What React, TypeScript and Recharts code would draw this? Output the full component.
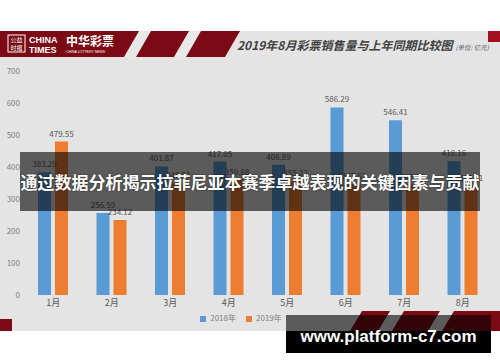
import React from 'react';
import { BarChart, Bar, XAxis, YAxis, Legend, LabelList } from 'recharts';

// monthly lottery sales, 100 million yuan
const months = ['1月', '2月', '3月', '4月', '5月', '6月', '7月', '8月'];
const sales2018 = [383.29, 256.59, 401.87, 417.05, 406.89, 586.29, 546.41, 418.16];
const sales2019 = [479.55, 234.12, 349.51, 359.88, 355.22, 347.62, 345.11, 340.61];
const yTicks = [0, 100, 200, 300, 400, 500, 600, 700];

const title = '2019年8月彩票销售量与上年同期比较图';
const unit = '(单位: 亿元)';
const caption = '通过数据分析揭示拉菲尼亚本赛季卓越表现的关键因素与贡献';
const siteUrl = 'www.platform-c7.com';

const BLUE = '#5b9bd5';
const ORANGE = '#ed7d31';
const RED = '#7b0a14';
const CJK = '"Noto Sans CJK SC", "Noto Sans", sans-serif';

const chartData = months.map((m, i) => ({
  month: m,
  y2018: sales2018[i],
  y2019: sales2019[i],
}));

function Header() {
  // red logo band with diagonal white stripes
  return (
    <svg width={500} height={26} style={{ position: 'absolute', left: 0, top: 31 }}>
      <polygon points="0,0 240,0 225,26 0,26" fill={RED} />
      <polygon points="139,0 151,0 136,26 124,26" fill="#e8e8e8" />
      <polygon points="189,0 201,0 186,26 174,26" fill="#e8e8e8" />
      <rect x={8} y={4} width={17} height={17} fill="none" stroke="#fff" strokeWidth={1} />
      <text x={16.5} y={11} fontSize={6} fill="#fff" textAnchor="middle" fontFamily={CJK}>公益</text>
      <text x={16.5} y={19} fontSize={6} fill="#fff" textAnchor="middle" fontFamily={CJK}>时报</text>
      <text x={29} y={12} fontSize={9} fill="#fff" fontWeight="bold" fontFamily="Liberation Sans, sans-serif">CHINA</text>
      <text x={29} y={22} fontSize={9} fill="#fff" fontWeight="bold" fontFamily="Liberation Sans, sans-serif">TIMES</text>
      <text x={66} y={15} fontSize={12} fill="#fff" fontWeight="bold" fontFamily={CJK}>中华彩票</text>
      <text x={66} y={22} fontSize={3.5} fill="#fff" fontFamily="Liberation Sans, sans-serif">CHINA LOTTERY NEWS</text>
      <rect x={488} y={0} width={12} height={11} fill="#a30f1e" />
    </svg>
  );
}

function BottomBand() {
  return (
    <svg width={500} height={20} style={{ position: 'absolute', left: 0, top: 311 }}>
      <rect x={0} y={8} width={12} height={12} fill={RED} />
      <polygon points="362,0 500,0 500,20 350,20" fill={RED} />
      <polygon points="390,0 404,0 392,20 378,20" fill="#e4e4e4" />
      <polygon points="440,0 454,0 442,20 428,20" fill="#e4e4e4" />
    </svg>
  );
}

const legendText = (value: string) => <span style={{ color: '#7f7f7f' }}>{value}</span>;

export default function App() {
  return (
    <div style={{ position: 'fixed', left: 0, top: 0, width: 500, height: 362, background: '#fff', overflow: 'hidden' }}>
      <div style={{ position: 'absolute', left: 0, top: 31, width: 500, height: 300, background: '#e4e4e4' }} />
      <div style={{ position: 'absolute', left: 0, top: 31 }}>
        <BarChart
          width={500}
          height={300}
          data={chartData}
          margin={{ top: 40, right: 8, left: 0, bottom: 7 }}
          barSize={13}
          barGap={4}
        >
          <XAxis
            dataKey="month"
            axisLine={false}
            tickLine={false}
            tickSize={3}
            height={17}
            tick={{ fontSize: 9, fill: '#595959', fontFamily: CJK }}
          />
          <YAxis
            domain={[0, 700]}
            ticks={yTicks}
            width={24}
            axisLine={false}
            tickLine={false}
            tickSize={0}
            tickMargin={4}
            tick={{ fontSize: 8, fill: '#7f7f7f', fontFamily: CJK }}
          />
          <Legend
            iconType="square"
            iconSize={6}
            formatter={legendText}
            wrapperStyle={{ fontSize: 8, fontFamily: CJK, lineHeight: '12px' }}
          />
          <Bar dataKey="y2018" name="2018年" fill={BLUE} isAnimationActive={false}>
            <LabelList dataKey="y2018" position="top" offset={5} fontSize={8} fill="#595959" fontFamily={CJK} />
          </Bar>
          <Bar dataKey="y2019" name="2019年" fill={ORANGE} isAnimationActive={false}>
            <LabelList dataKey="y2019" position="top" offset={5} fontSize={8} fill="#595959" fontFamily={CJK} />
          </Bar>
        </BarChart>
      </div>

      <Header />
      <div
        style={{
          position: 'absolute', left: 237, top: 36, fontFamily: CJK, fontSize: 12, fontStyle: 'italic',
          fontWeight: 'bold', color: '#3f3f3f', whiteSpace: 'nowrap', lineHeight: '18px',
        }}
      >
        {title}
        <span style={{ fontSize: 6.5, fontWeight: 'normal', marginLeft: 3, color: '#595959' }}>{unit}</span>
      </div>

      <BottomBand />

      {/* caption band */}
      <div
        style={{
          position: 'absolute', left: 20, top: 152, width: 460, height: 59, background: 'rgba(0,0,0,0.6)',
          color: '#fff', fontFamily: CJK, fontWeight: 'bold', fontSize: 17, lineHeight: '59px',
          textAlign: 'center', whiteSpace: 'nowrap', textShadow: '0 0 2px rgba(0,0,0,0.6)',
        }}
      >
        {caption}
      </div>

      {/* site box */}
      <div style={{ position: 'absolute', left: 286, top: 315, width: 205, height: 16, background: 'rgba(0,0,0,0.6)' }} />
      <div style={{ position: 'absolute', left: 286, top: 331, width: 205, height: 22, background: '#000' }} />
      <div
        style={{
          position: 'absolute', left: 286, top: 324, width: 205, height: 26, lineHeight: '26px',
          textAlign: 'center', color: '#fff', fontFamily: '"Liberation Sans", Arial, sans-serif',
          fontWeight: 'bold', fontSize: 17,
        }}
      >
        {siteUrl}
      </div>
    </div>
  );
}
